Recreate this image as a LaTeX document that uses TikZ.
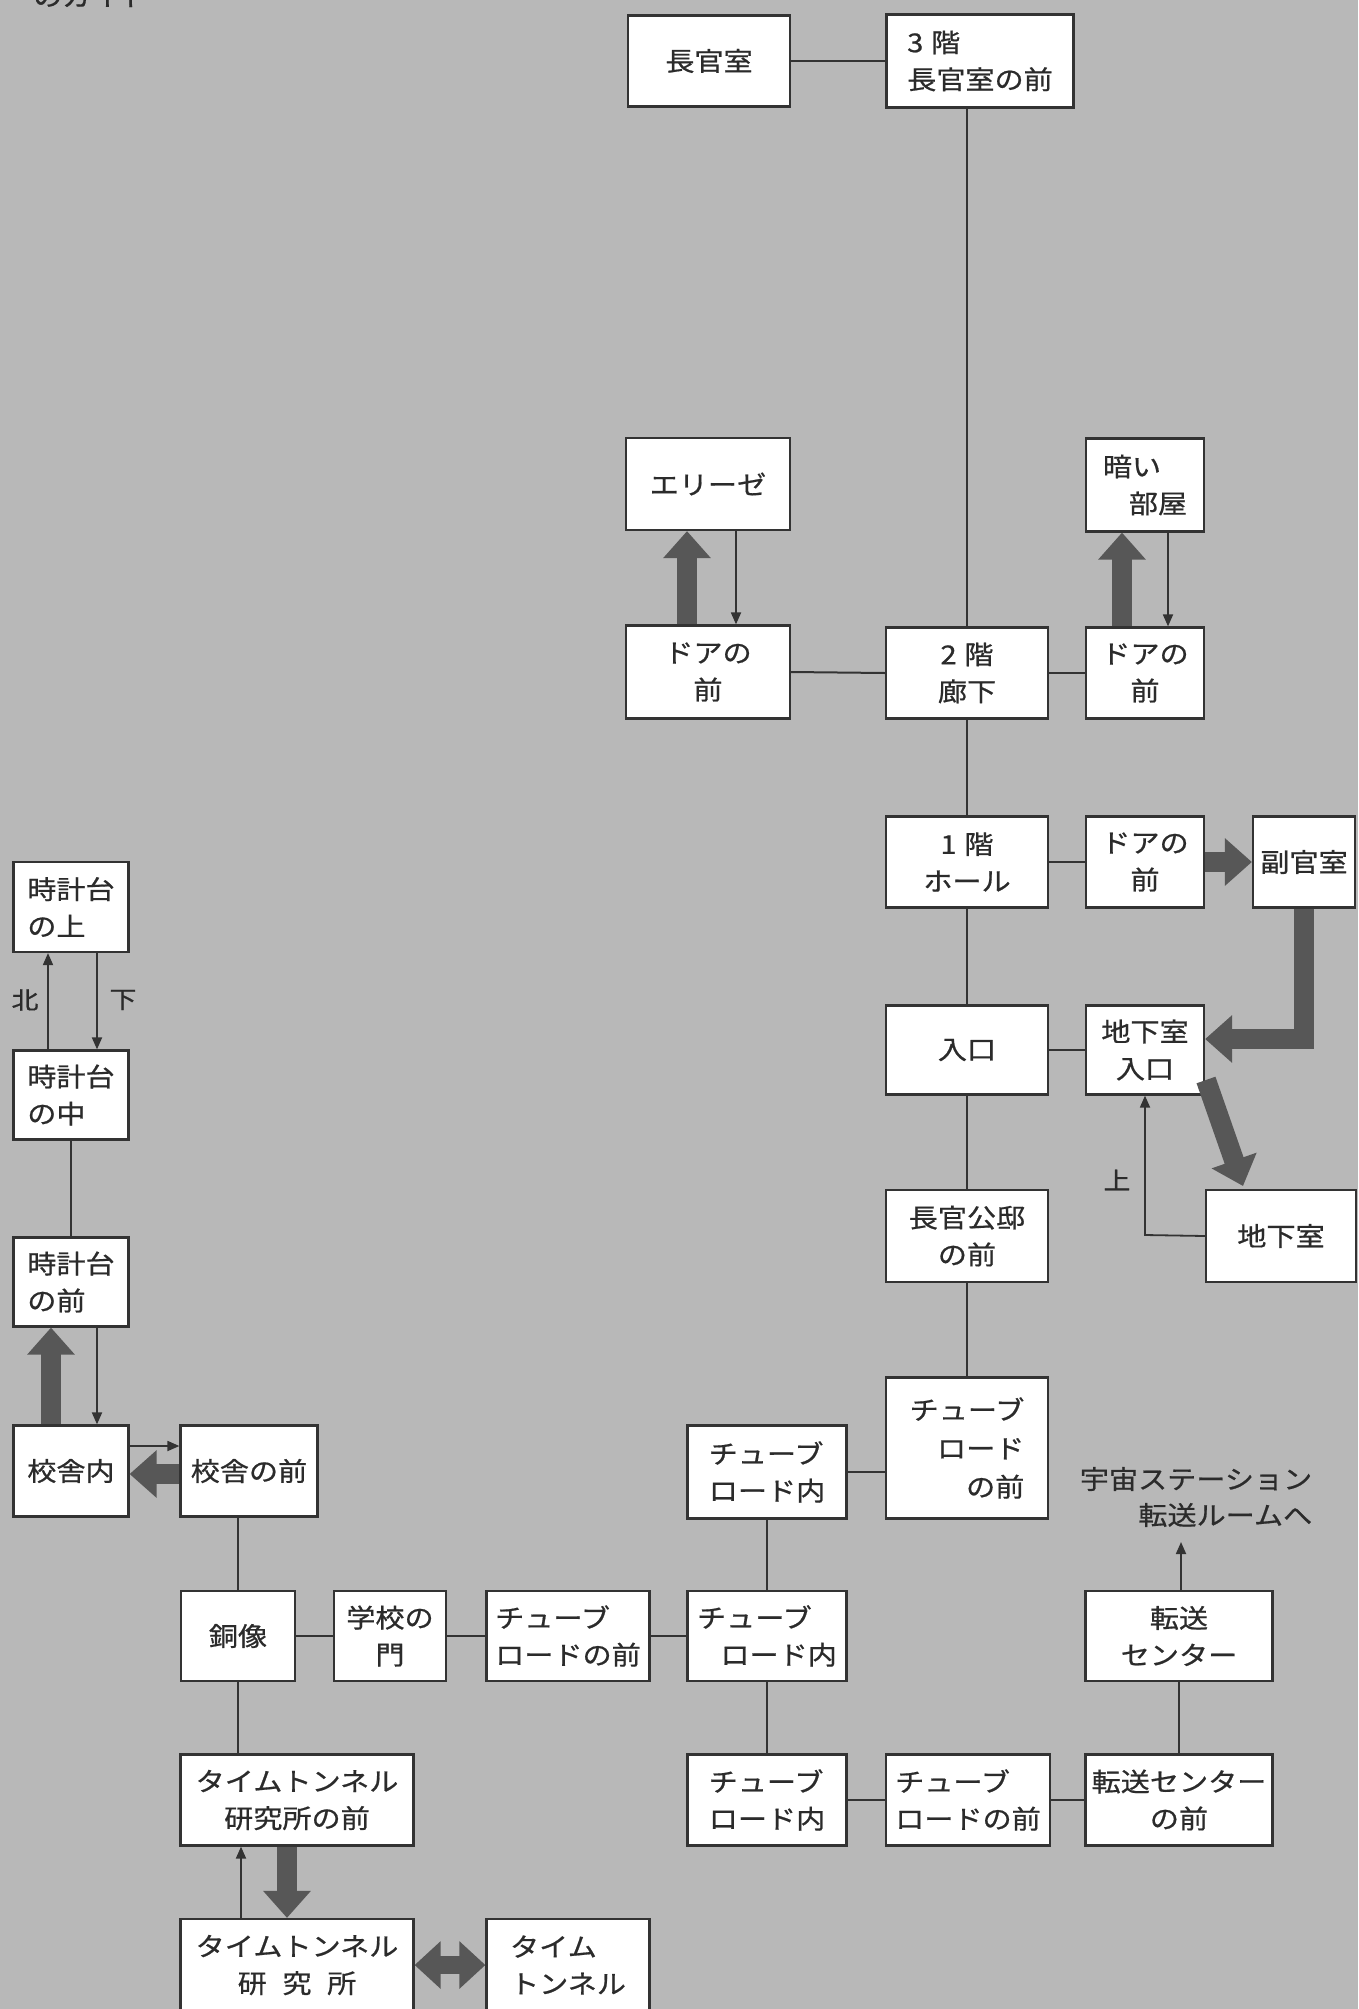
\documentclass[tikz,border=0pt]{standalone}
\usepackage{fontspec}
\newfontfamily\jp[FakeStretch=1.12,FakeBold=0.7]{Noto Sans CJK JP}
\usetikzlibrary{arrows.meta,calc}
\definecolor{bgc}{HTML}{B8B8B8}
\definecolor{linec}{HTML}{333333}
\definecolor{txtc}{HTML}{2B2B2B}
\definecolor{arrc}{HTML}{575757}
\begin{document}
\begin{tikzpicture}[x=1pt,y=-1pt,
  room/.style={draw=linec, fill=white, line width=2.2pt, inner sep=0pt, text=txtc, align=center, font=\jp\fontsize{26}{37}\selectfont},
  link/.style={draw=linec, line width=2pt},
  thinarrow/.style={draw=linec, line width=1.8pt, -{Triangle[width=10pt,length=12pt]}},
  fatarrow/.style={draw=arrc, line width=20pt, -{Triangle[width=46pt,length=27pt]}},
  fatdouble/.style={draw=arrc, line width=18pt, {Triangle[width=46pt,length=26pt]}-{Triangle[width=46pt,length=26pt]}},
  lbl/.style={text=txtc, font=\jp\fontsize{24}{28}\selectfont, inner sep=0pt}
]
\fill[bgc] (0,0) rectangle (1358,2009);
\useasboundingbox (0,0) rectangle (1358,2009);

\node[lbl, anchor=base west, font=\jp\fontsize{26}{30}\selectfont] (cut) at (33,6) {のガイド};

% boxes
\node[room, minimum width=162pt, minimum height=91pt] (n1) at (709,61) {長官室};
\node[room, minimum width=187pt, minimum height=93pt, align=left] (n2) at (980,61) {3\hspace{0.3em}階\\長官室の前};
\node[room, minimum width=164pt, minimum height=92pt] (n3) at (708,484) {エリーゼ};
\node[room, minimum width=118pt, minimum height=93pt, align=left] (n4) at (1145,485) {暗い\\\hspace*{1em}部屋};
\node[room, minimum width=164pt, minimum height=93pt] (n5) at (708,672) {ドアの\\前};
\node[room, minimum width=162pt, minimum height=91pt] (n6) at (967,673) {2\hspace{0.3em}階\\廊下};
\node[room, minimum width=118pt, minimum height=91pt] (n7) at (1145,673) {ドアの\\前};
\node[room, minimum width=162pt, minimum height=91pt] (n8) at (967,862) {1\hspace{0.3em}階\\ホール};
\node[room, minimum width=118pt, minimum height=91pt] (n9) at (1145,862) {ドアの\\前};
\node[room, minimum width=102pt, minimum height=91pt] (n10) at (1304,862) {副官室};
\node[room, minimum width=162pt, minimum height=89pt] (n11) at (967,1050) {入口};
\node[room, minimum width=118pt, minimum height=89pt] (n12) at (1145,1050) {地下室\\入口};
\node[room, minimum width=150pt, minimum height=92pt] (n13) at (1281,1236) {地下室};
\node[room, minimum width=162pt, minimum height=92pt] (n14) at (967,1236) {長官公邸\\の前};
\node[room, minimum width=162pt, minimum height=141pt, align=right, font=\jp\fontsize{26}{38.5}\selectfont] (n15) at (967,1448) {チューブ\\ロード\\の前};
\node[room, minimum width=159pt, minimum height=93pt, align=left] (n16) at (767,1472) {チューブ\\ロード内};
\node[room, minimum width=159pt, minimum height=90pt, align=left] (n17) at (767,1636) {チューブ\\\hspace*{0.9em}ロード内};
\node[room, minimum width=163pt, minimum height=90pt, align=left] (n18) at (568,1636) {チューブ\\ロードの前};
\node[room, minimum width=112pt, minimum height=90pt] (n19) at (390,1636) {学校の\\門};
\node[room, minimum width=114pt, minimum height=90pt] (n20) at (238,1636) {銅像};
\node[room, minimum width=137pt, minimum height=91pt] (n21) at (249,1471) {校舎の前};
\node[room, minimum width=115pt, minimum height=91pt] (n22) at (71,1471) {校舎内};
\node[room, minimum width=115pt, minimum height=89pt, align=left] (n23) at (71,1282) {時計台\\の前};
\node[room, minimum width=115pt, minimum height=89pt, align=left] (n24) at (71,1095) {時計台\\の中};
\node[room, minimum width=115pt, minimum height=90pt, align=left] (n25) at (71,907) {時計台\\の上};
\node[room, minimum width=233pt, minimum height=91pt] (n26) at (297,1800) {タイムトンネル\\研究所の前};
\node[room, minimum width=233pt, minimum height=92pt] (n27) at (297,1965) {タイムトンネル\\研\hspace{0.6em}究\hspace{0.6em}所};
\node[room, minimum width=163pt, minimum height=92pt, align=left] (n28) at (568,1965) {タイム\\トンネル};
\node[room, minimum width=159pt, minimum height=91pt, align=left] (n29) at (767,1800) {チューブ\\ロード内};
\node[room, minimum width=164pt, minimum height=91pt, align=left] (n30) at (968,1800) {チューブ\\ロードの前};
\node[room, minimum width=187pt, minimum height=91pt] (n31) at (1179,1800) {転送センター\\の前};
\node[room, minimum width=187pt, minimum height=90pt] (n32) at (1179,1636) {転送\\センター};
\node[lbl, align=right, font=\jp\fontsize{26}{36}\selectfont] (n33) at (1196,1497) {宇宙ステーション\\転送ルームへ};

% labels
\node[lbl] (lkita) at (25,1000) {北};
\node[lbl] (lshita) at (123,1000) {下};
\node[lbl] (lue) at (1117,1180) {上};

% plain connectors
\draw[link] (n1.east) -- (n2.west);
\draw[link] (n6.north |- n2.south) -- (n6.north);
\draw[link] (n5.east) -- (n6.west);
\draw[link] (n6.east) -- (n7.west);
\draw[link] (n6.south) -- (n8.north);
\draw[link] (n8.east) -- (n9.west);
\draw[link] (n8.south) -- (n11.north);
\draw[link] (n11.east) -- (n12.west);
\draw[link] (n11.south) -- (n14.north);
\draw[link] (n14.south) -- (n15.north);
\draw[link] (n16.east) -- (n16.east -| n15.west);
\draw[link] (n16.south) -- (n17.north);
\draw[link] (n17.west) -- (n18.east);
\draw[link] (n18.west) -- (n19.east);
\draw[link] (n19.west) -- (n20.east);
\draw[link] (n20.north) -- (n20.north |- n21.south);
\draw[link] (n20.south) -- (n20.south |- n26.north);
\draw[link] (n24.south) -- (n23.north);
\draw[link] (n17.south) -- (n29.north);
\draw[link] (n29.east) -- (n30.west);
\draw[link] (n30.east) -- (n31.west);
\draw[link] (n31.north) -- (n32.north |- n32.south);

% thin arrows
\draw[thinarrow] ([xshift=28pt]n3.south) -- ([xshift=28pt]n5.north);
\draw[thinarrow] ([xshift=23pt]n4.south) -- ([xshift=23pt]n7.north);
\coordinate (ub) at (1145,1235);
\draw[thinarrow] (n13.west) -- (ub) -- (ub |- n12.south);
\draw[thinarrow] ([xshift=-23pt]n24.north) -- ([xshift=-23pt]n25.south);
\draw[thinarrow] ([xshift=26pt]n25.south) -- ([xshift=26pt]n24.north);
\draw[thinarrow] ([xshift=26pt]n23.south) -- ([xshift=26pt]n22.north);
\draw[thinarrow] ([yshift=25pt]n22.east) -- ([yshift=25pt]n22.east -| n21.west);
\draw[thinarrow] ([xshift=-56pt]n27.north) -- ([xshift=-56pt]n26.south);
\coordinate (upto) at (1181,1542);
\draw[thinarrow] (n32.north -| upto) -- (upto);

% fat arrows
\draw[fatarrow] ([xshift=-21pt]n5.north) -- ([xshift=-21pt]n3.south);
\draw[fatarrow] ([xshift=-23pt]n7.north) -- ([xshift=-23pt]n4.south);
\draw[fatarrow] (n9.east) -- (n10.west);
\coordinate (bend) at (1304,1039);
\draw[fatarrow, line join=miter] (n10.south) -- (bend) -- (n12.east |- bend);
\coordinate (dstart) at (1206,1080);
\coordinate (dtip) at (1243,1186);
\draw[fatarrow] (dstart) -- (dtip);
\draw[fatarrow] ([xshift=-20pt]n22.north) -- ([xshift=-20pt]n23.south);
\draw[fatarrow] ([yshift=-3pt]n21.west) -- ([yshift=-3pt]n21.west -| n22.east);
\draw[fatarrow] ([xshift=-10pt]n26.south) -- ([xshift=-10pt]n27.north);
\draw[fatdouble] (n27.east) -- (n28.west);
\end{tikzpicture}
\end{document}
